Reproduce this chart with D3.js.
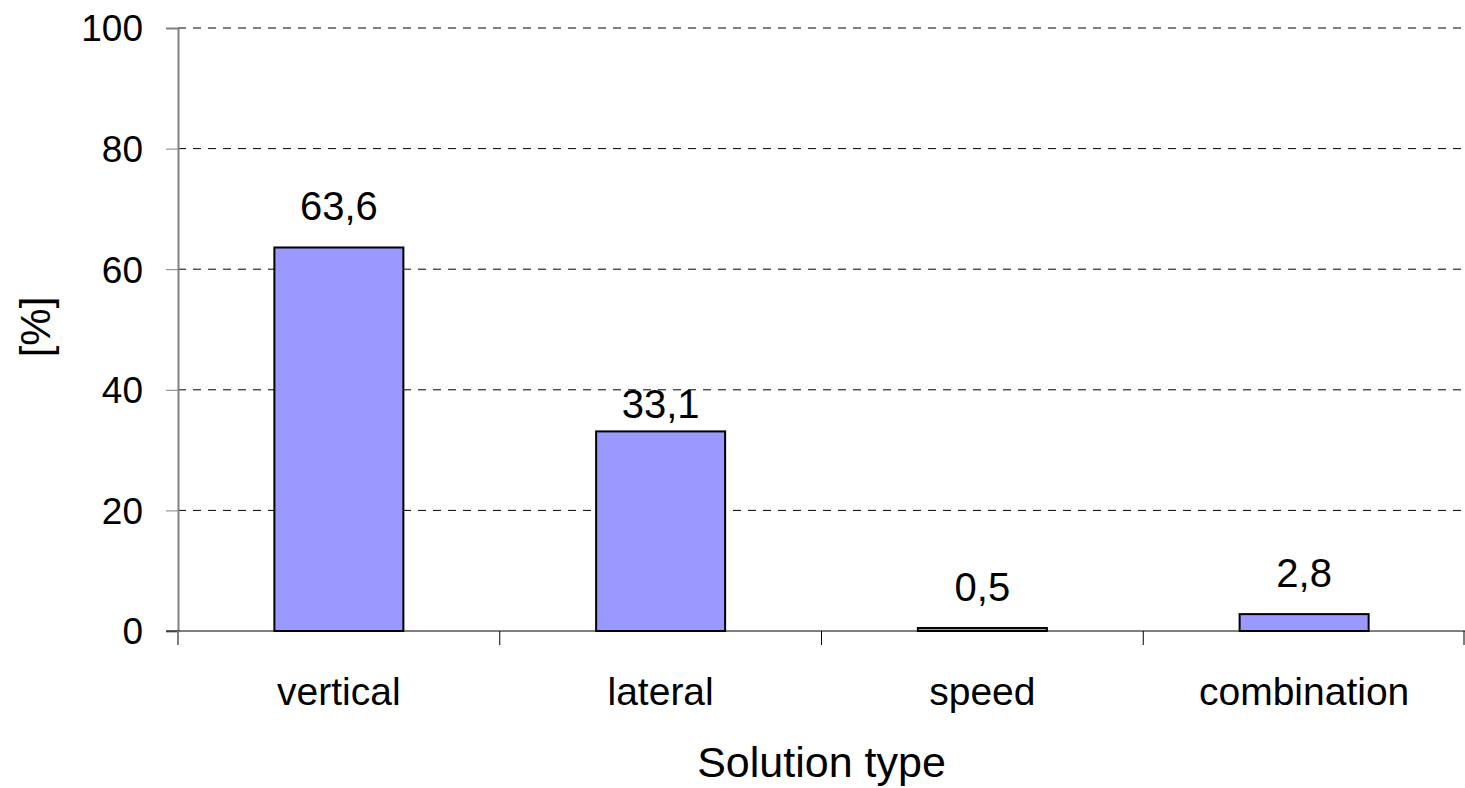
<!DOCTYPE html>
<html><head><meta charset="utf-8">
<script src="https://cdn.jsdelivr.net/npm/d3@7"></script>
<style>body{margin:0;background:#fff}</style>
</head><body>
<svg id="c" width="1465" height="788"></svg>
<script>
const categories = ["vertical","lateral","speed","combination"];
const values = [63.6, 33.1, 0.5, 2.8];
const valueLabels = ["63,6","33,1","0,5","2,8"];
const yTicks = [0,20,40,60,80,100];

const svg = d3.select("#c");
const font = "Liberation Sans, Arial, sans-serif";
const L = 178, R = 1465, T = 28, B = 631;
const x = d3.scaleBand().domain(categories).range([L,R]).paddingInner(0).paddingOuter(0);
const y = d3.scaleLinear().domain([0,100]).range([B,T]);

// gridlines
svg.append("g").selectAll("line").data(yTicks.filter(d=>d>0)).join("line")
  .attr("x1",L).attr("x2",R).attr("y1",d=>y(d)).attr("y2",d=>y(d))
  .attr("stroke","#000").attr("stroke-width",1).attr("stroke-dasharray","8,7");

// y axis
const ya = svg.append("g").attr("transform",`translate(${L},0)`)
  .call(d3.axisLeft(y).tickValues(yTicks).tickSize(12).tickPadding(23).tickFormat(d3.format("d")));
ya.select(".domain").attr("stroke","#808080").attr("stroke-width",2);
ya.selectAll(".tick line").attr("stroke","#808080").attr("stroke-width",1);
ya.selectAll("text").attr("font-family",font).attr("font-size",37).attr("fill","#000").attr("dy","0.35em");

// bars
const bw = 129;
svg.append("g").selectAll("rect").data(values).join("rect")
  .attr("x",(d,i)=>x(categories[i])+x.bandwidth()/2-bw/2)
  .attr("width",bw)
  .attr("y",d=>y(d))
  .attr("height",d=>B-y(d))
  .attr("fill","#9999FF").attr("stroke","#000").attr("stroke-width",2);

// x axis
svg.append("line").attr("x1",L-12).attr("x2",R).attr("y1",B).attr("y2",B).attr("stroke","#000").attr("stroke-width",1);
const bTicks = categories.map(c=>x(c)).concat([R]);
svg.append("g").selectAll("line").data(bTicks).join("line")
  .attr("x1",d=>Math.min(d,R-1)).attr("x2",d=>Math.min(d,R-1)).attr("y1",B).attr("y2",B+14)
  .attr("stroke",(d,i)=>i===0?"#808080":"#000").attr("stroke-width",(d,i)=>i===0?2:1);
svg.append("g").selectAll("text").data(categories).join("text")
  .attr("x",d=>x(d)+x.bandwidth()/2).attr("y",705)
  .attr("text-anchor","middle").attr("font-family",font).attr("font-size",39).text(d=>d);

// value labels (moved below a gridline if they would cross it)
function labelBaseline(v){
  let b = y(v) - 27;
  const top = b - 29;
  yTicks.forEach(t=>{ const g = y(t); if (t>0 && g>top && g<b) b = g + 28; });
  return b;
}
svg.append("g").selectAll("text").data(values).join("text")
  .attr("x",(d,i)=>x(categories[i])+x.bandwidth()/2)
  .attr("y",d=>labelBaseline(d))
  .attr("text-anchor","middle").attr("font-family",font).attr("font-size",40)
  .text((d,i)=>valueLabels[i]);

// axis titles
svg.append("text").attr("x",(L+R)/2).attr("y",777).attr("text-anchor","middle")
  .attr("font-family",font).attr("font-size",43).text("Solution type");
svg.append("text").attr("transform",`translate(50,327) rotate(-90)`).attr("text-anchor","middle")
  .attr("font-family",font).attr("font-size",42).text("[%]");
</script>
</body></html>
